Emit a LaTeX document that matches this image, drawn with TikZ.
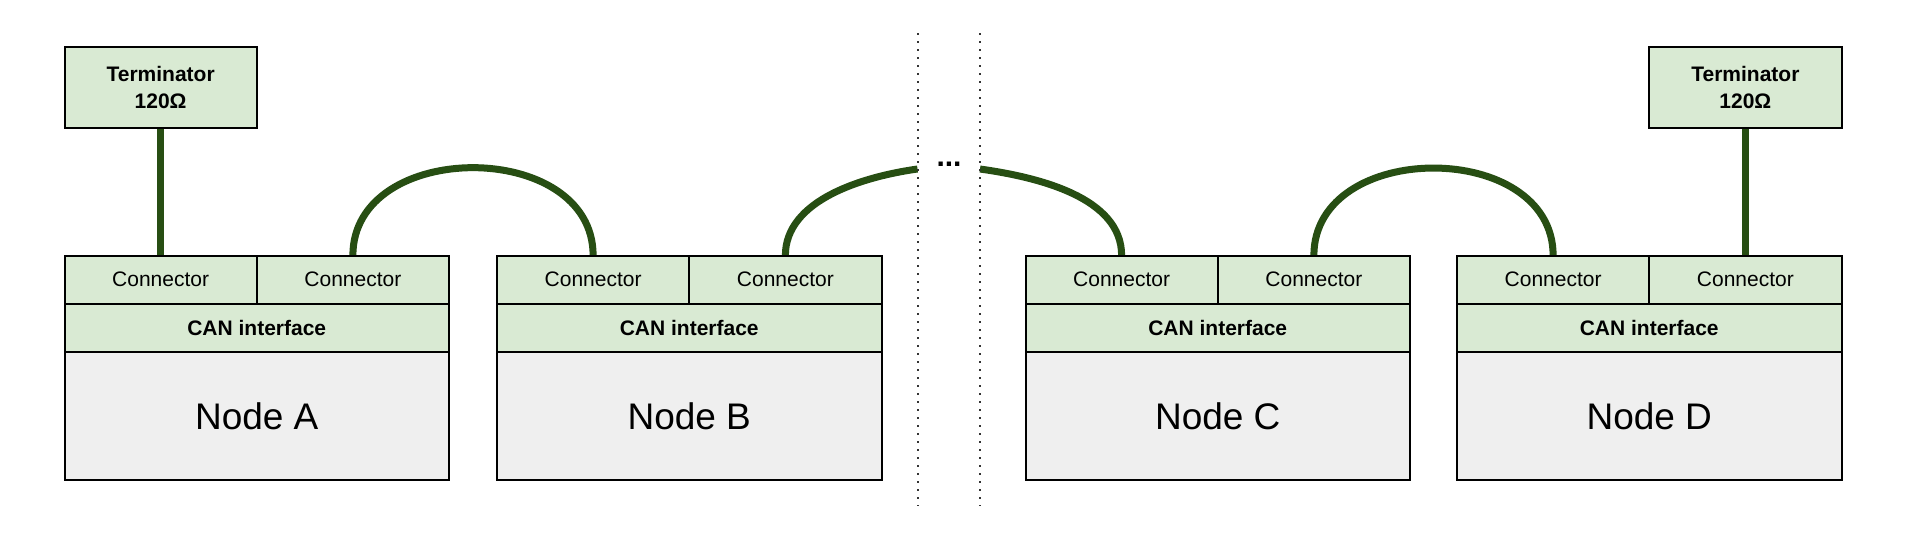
\documentclass[tikz,border=0pt]{standalone}
\usepackage{fontspec}
\setmainfont{Liberation Sans}
\usetikzlibrary{backgrounds}
\definecolor{boxgreen}{HTML}{D9EAD3}
\definecolor{boxgray}{HTML}{EFEFEF}
\definecolor{busgreen}{HTML}{274E13}
\newcommand{\connfont}{\fontsize{21}{26.5}\selectfont}
\newcommand{\nodefont}{\fontsize{37}{44}\selectfont}
\begin{document}
\begin{tikzpicture}[x=1pt,y=1pt,
  cell/.style={draw=black,line width=2pt,inner sep=0pt,outer sep=0pt,anchor=north west,minimum width=#1},
  bus/.style={draw=busgreen,line width=7pt},
  sep/.style={draw=black!80,line width=2pt,dash pattern=on 2pt off 6pt}]
\useasboundingbox (0,0) rectangle (1922,-549);
\foreach \n/\x in {A/64.5,B/497,C/1025.5,D/1457} {
  \node[cell=192.25pt,minimum height=48pt,fill=boxgreen,font=\connfont] (conn\n1) at (\x,-255.5) {Connector};
  \node[cell=192.25pt,minimum height=48pt,fill=boxgreen,font=\connfont] (conn\n2) at (\x+192.25,-255.5) {Connector};
  \node[cell=384.5pt,minimum height=48.5pt,fill=boxgreen,font=\bfseries\connfont] (can\n) at (\x,-303.5) {CAN interface};
  \node[cell=384.5pt,minimum height=128pt,fill=boxgray,font=\nodefont] (body\n) at (\x,-352) {Node \n};
}
\node[cell=192.25pt,minimum height=81pt,fill=boxgreen,align=center,font=\bfseries\connfont] (termA) at (64.5,-47) {Terminator\\120Ω};
\node[cell=192.25pt,minimum height=81pt,fill=boxgreen,align=center,font=\bfseries\connfont] (termD) at (1649.25,-47) {Terminator\\120Ω};
\coordinate (sepLtop) at (917.5,-33);
\coordinate (sepLbot) at (917.5,-506);
\coordinate (sepRtop) at (980,-33);
\coordinate (sepRbot) at (980,-506);
\draw[sep] (sepLtop) -- (sepLbot);
\draw[sep] (sepRtop) -- (sepRbot);
\node[font=\bfseries\fontsize{30}{36}\selectfont,anchor=base,inner sep=0pt] (ell) at (949,-166) {...};
\coordinate (dl) at (917.5,-169);
\coordinate (dr) at (980,-169);
\begin{scope}[on background layer]
\fill[white] (0,0) rectangle (1922,-549);
\draw[bus] (termA.south) -- (connA1.north);
\draw[bus] (termD.south) -- (connD2.north);
\draw[bus] (connA2.north) to[out=90,in=90,looseness=1.25] (connB1.north);
\draw[bus] (connB2.north) to[out=90,in=188,looseness=0.9] (dl);
\draw[bus] (dr) to[out=-8,in=90,looseness=0.9] (connC1.north);
\draw[bus] (connC2.north) to[out=90,in=90,looseness=1.25] (connD1.north);
\end{scope}
\end{tikzpicture}
\end{document}
